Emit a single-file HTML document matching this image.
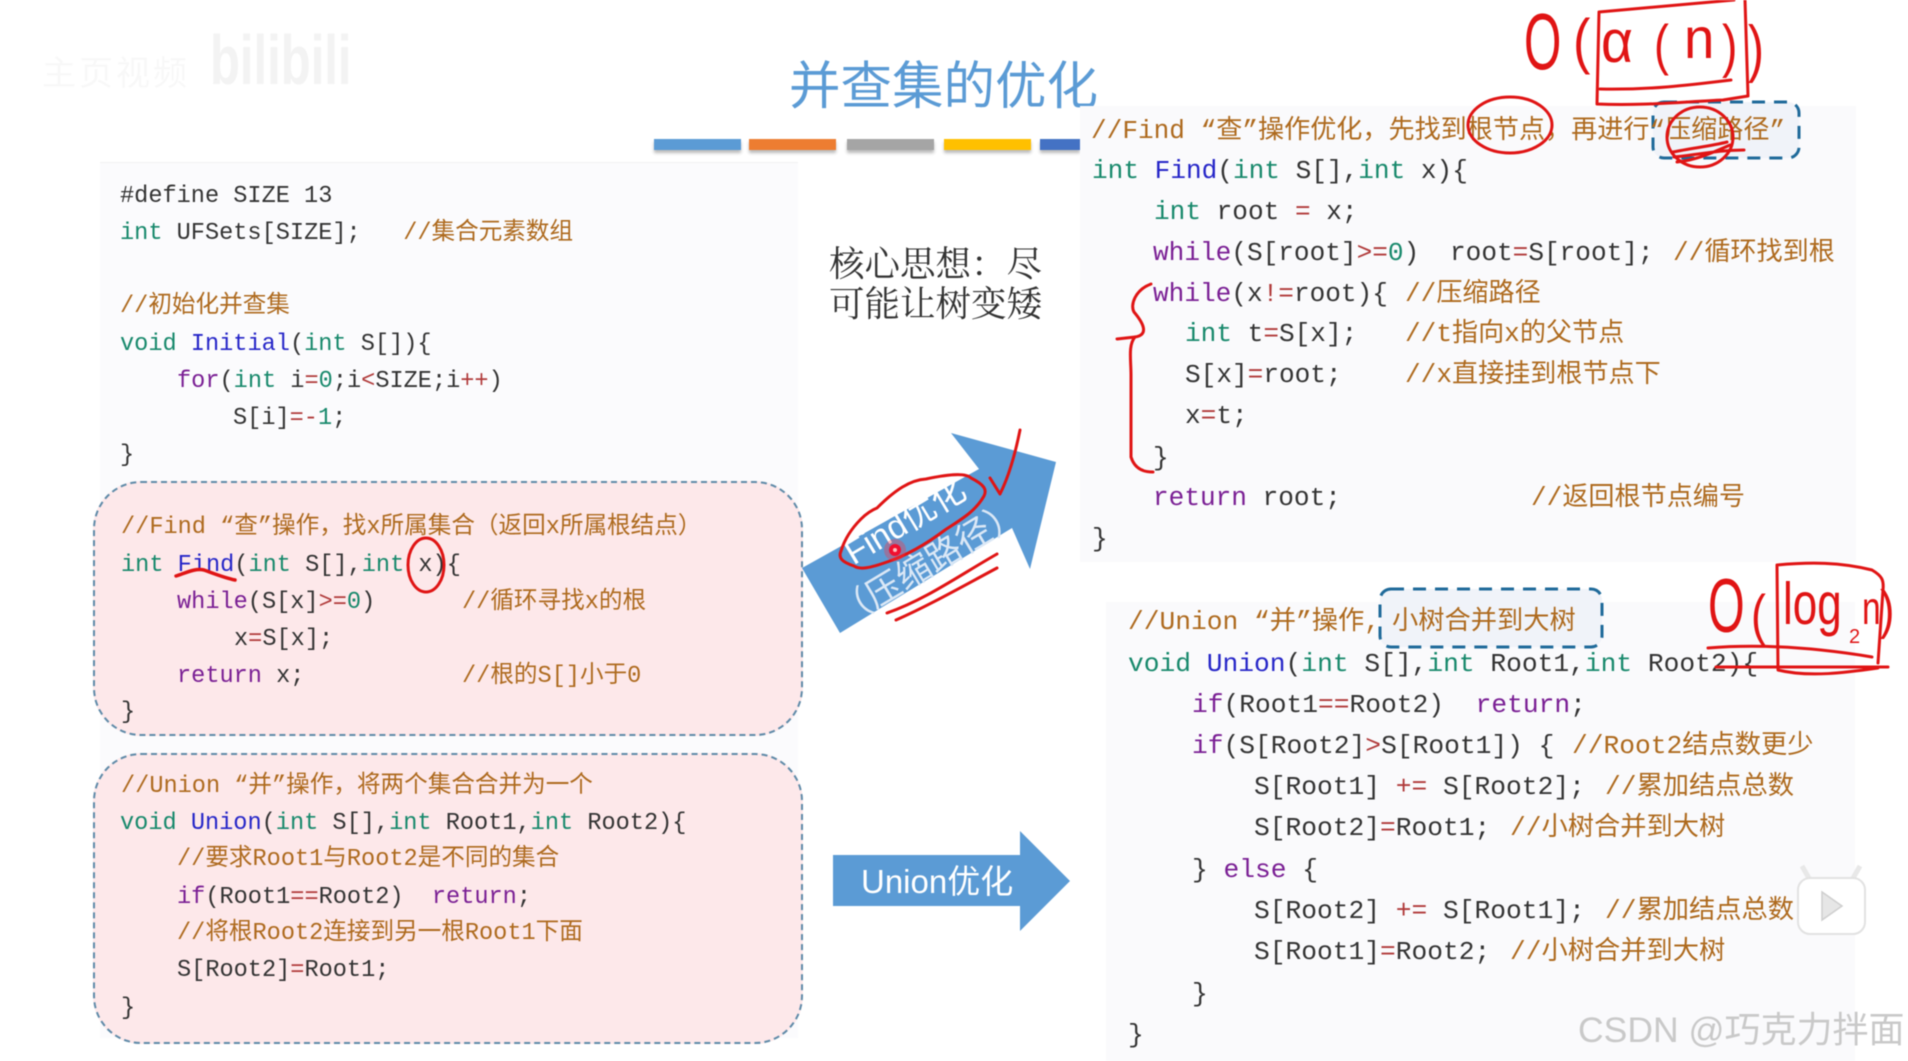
<!DOCTYPE html>
<html><head><meta charset="utf-8"><style>
html,body{margin:0;padding:0;background:#fff}
#s{position:relative;width:1908px;height:1061px;overflow:hidden;background:#fff;font-family:"Liberation Mono","Noto Sans CJK SC",monospace;color:#333;filter:blur(.4px)}
.a{position:absolute}
.l{position:absolute;white-space:pre;line-height:30px;height:30px}
.L,.R,.U{position:absolute;left:0}
.L{top:2px}.R{top:0}.U{top:1px}
.L .l{font-size:23.6px}.R .l{font-size:26.1px}.U .l{font-size:26.25px}
.c{color:#ae6a1e}.k{color:#18896c}.p{color:#7a1f94}.f{color:#2626c8}.o{color:#b03a3a}
svg{position:absolute;left:0;top:0}
</style></head><body><div id="s">
<div class="a" style="left:210px;top:20px;font:bold 70px 'Liberation Sans',sans-serif;color:#f3f3f3;transform:scaleX(.7);transform-origin:0 0">bilibili</div>
<div class="a" style="left:42px;top:46px;font:34px 'Noto Sans CJK SC',sans-serif;color:#f8f8f8;letter-spacing:3px">主页视频</div>
<div class="a" style="left:789px;top:47px;font:51.5px/70px 'Noto Sans CJK SC',sans-serif;color:#5b9bd5;white-space:pre">并查集的优化</div>
<div class="a" style="left:654px;top:139px;width:87px;height:11px;background:#5b9bd5;box-shadow:0 3px 3px #bbb"></div>
<div class="a" style="left:749px;top:139px;width:87px;height:11px;background:#ed7d31;box-shadow:0 3px 3px #bbb"></div>
<div class="a" style="left:847px;top:139px;width:87px;height:11px;background:#a5a5a5;box-shadow:0 3px 3px #bbb"></div>
<div class="a" style="left:944px;top:139px;width:87px;height:11px;background:#ffc000;box-shadow:0 3px 3px #bbb"></div>
<div class="a" style="left:1040px;top:139px;width:40px;height:11px;background:#4472c4;box-shadow:0 3px 3px #bbb"></div>

<div class="a" style="left:100px;top:162px;width:698px;height:875px;background:#fbfbfd;border-top:1px solid #f2f2f2"></div>
<div class="a" style="left:1080px;top:106px;width:776px;height:456px;background:#fafafc"></div>
<div class="a" style="left:1106px;top:602px;width:749px;height:459px;background:#fafafc"></div>
<div class="a" style="left:93px;top:481px;width:706px;height:251px;background:#fde8ea;border:2px dashed #5f8aa8;border-radius:48px"></div>
<div class="a" style="left:93px;top:753px;width:706px;height:287px;background:#fde8ea;border:2px dashed #5f8aa8;border-radius:48px"></div>
<svg width="1908" height="1061" viewBox="0 0 1908 1061">
<rect x="1653" y="102" width="146" height="56" rx="11" fill="#f0f3f9" stroke="#1f6a9a" stroke-width="3" stroke-dasharray="13 9"/>
<rect x="1380" y="589" width="222" height="58" rx="11" fill="#f0f3f9" stroke="#1f6a9a" stroke-width="3" stroke-dasharray="13 9"/>
</svg>

<div class="L">
<div class="l" style="left:120px;top:180px">#define SIZE 13</div>
<div class="l" style="left:120px;top:217px"><span class="k">int</span> UFSets[SIZE];   <span class="c">//集合元素数组</span></div>
<div class="l c" style="left:120px;top:290px">//初始化并查集</div>
<div class="l" style="left:120px;top:328px"><span class="k">void</span> <span class="f">Initial</span>(<span class="k">int</span> S[]){</div>
<div class="l" style="left:177px;top:365px"><span class="p">for</span>(<span class="k">int</span> i<span class="o">=</span><span class="k">0</span>;i<span class="o">&lt;</span>SIZE;i<span class="o">++</span>)</div>
<div class="l" style="left:233px;top:402px">S[i]<span class="o">=-</span><span class="k">1</span>;</div>
<div class="l" style="left:120px;top:439px">}</div>
<div class="l c" style="left:121px;top:511px">//Find “查”操作，找x所属集合（返回x所属根结点）</div>
<div class="l" style="left:121px;top:549px"><span class="k">int</span> <span class="f">Find</span>(<span class="k">int</span> S[],<span class="k">int</span> x){</div>
<div class="l" style="left:177px;top:586px"><span class="p">while</span>(S[x]<span class="o">&gt;=</span><span class="k">0</span>)</div>
<div class="l c" style="left:462px;top:586px">//循环寻找x的根</div>
<div class="l" style="left:234px;top:623px">x<span class="o">=</span>S[x];</div>
<div class="l" style="left:177px;top:660px"><span class="p">return</span> x;</div>
<div class="l c" style="left:462px;top:660px">//根的S[]小于0</div>
<div class="l" style="left:121px;top:696px">}</div>
<div class="l c" style="left:121px;top:770px">//Union “并”操作，将两个集合合并为一个</div>
<div class="l" style="left:120px;top:807px"><span class="k">void</span> <span class="f">Union</span>(<span class="k">int</span> S[],<span class="k">int</span> Root1,<span class="k">int</span> Root2){</div>
<div class="l c" style="left:177px;top:843px">//要求Root1与Root2是不同的集合</div>
<div class="l" style="left:177px;top:881px"><span class="p">if</span>(Root1<span class="o">==</span>Root2)  <span class="p">return</span>;</div>
<div class="l c" style="left:177px;top:917px">//将根Root2连接到另一根Root1下面</div>
<div class="l" style="left:177px;top:954px">S[Root2]<span class="o">=</span>Root1;</div>
<div class="l" style="left:121px;top:992px">}</div>
</div>

<div class="R">
<div class="l c" style="left:1091px;top:115.5px">//Find “查”操作优化，先找到根节点，再进行“压缩路径”</div>
<div class="l" style="left:1092px;top:156px"><span class="k">int</span> <span class="f">Find</span>(<span class="k">int</span> S[],<span class="k">int</span> x){</div>
<div class="l" style="left:1154px;top:197px"><span class="k">int</span> root <span class="o">=</span> x;</div>
<div class="l" style="left:1153px;top:238px"><span class="p">while</span>(S[root]<span class="o">&gt;=</span><span class="k">0</span>)</div>
<div class="l" style="left:1450px;top:238px">root<span class="o">=</span>S[root];</div>
<div class="l c" style="left:1673px;top:238px">//循环找到根</div>
<div class="l" style="left:1153px;top:279px"><span class="p">while</span>(x<span class="o">!=</span>root){</div>
<div class="l c" style="left:1405px;top:279px">//压缩路径</div>
<div class="l" style="left:1185px;top:319px"><span class="k">int</span> t<span class="o">=</span>S[x];</div>
<div class="l c" style="left:1405px;top:319px">//t指向x的父节点</div>
<div class="l" style="left:1185px;top:360px">S[x]<span class="o">=</span>root;</div>
<div class="l c" style="left:1405px;top:360px">//x直接挂到根节点下</div>
<div class="l" style="left:1185px;top:401px">x<span class="o">=</span>t;</div>
<div class="l" style="left:1153px;top:443px">}</div>
<div class="l" style="left:1153px;top:483px"><span class="p">return</span> root;</div>
<div class="l c" style="left:1531px;top:483px">//返回根节点编号</div>
<div class="l" style="left:1092px;top:524px">}</div>
</div>

<div class="U">
<div class="l c" style="left:1128px;top:606px">//Union “并”操作,</div>
<div class="l c" style="left:1392px;top:606px">小树合并到大树</div>
<div class="l" style="left:1128px;top:648px"><span class="k">void</span> <span class="f">Union</span>(<span class="k">int</span> S[],<span class="k">int</span> Root1,<span class="k">int</span> Root2){</div>
<div class="l" style="left:1192px;top:689px"><span class="p">if</span>(Root1<span class="o">==</span>Root2)  <span class="p">return</span>;</div>
<div class="l" style="left:1192px;top:730px"><span class="p">if</span>(S[Root2]<span class="o">&gt;</span>S[Root1]) {</div>
<div class="l c" style="left:1572px;top:730px">//Root2结点数更少</div>
<div class="l" style="left:1254px;top:771px">S[Root1] <span class="o">+=</span> S[Root2];</div>
<div class="l c" style="left:1605px;top:771px">//累加结点总数</div>
<div class="l" style="left:1254px;top:812px">S[Root2]<span class="o">=</span>Root1;</div>
<div class="l c" style="left:1510px;top:812px">//小树合并到大树</div>
<div class="l" style="left:1192px;top:854px">} <span class="p">else</span> {</div>
<div class="l" style="left:1254px;top:895px">S[Root2] <span class="o">+=</span> S[Root1];</div>
<div class="l c" style="left:1605px;top:895px">//累加结点总数</div>
<div class="l" style="left:1254px;top:936px">S[Root1]<span class="o">=</span>Root2;</div>
<div class="l c" style="left:1510px;top:936px">//小树合并到大树</div>
<div class="l" style="left:1192px;top:978px">}</div>
<div class="l" style="left:1128px;top:1019px">}</div>
</div>

<div class="a" style="left:829px;top:242px;font:35.5px/40px 'Noto Serif CJK SC',serif;color:#333;white-space:pre">核心思想：尽
可能让树变矮</div>

<svg width="1908" height="1061" viewBox="0 0 1908 1061">
<polygon points="802,568 979,469 951,433 1056,462 1030,569 1012,528 840,633" fill="#5b9bd5"/>
<polygon points="833,855 1020,855 1020,831 1070,881 1020,931 1020,906 833,906" fill="#5b9bd5"/>
<text x="861" y="893" fill="#fff" font-family="Liberation Sans,Noto Sans CJK SC,sans-serif" font-size="33">Union优化</text>
<text transform="translate(911,531) rotate(-31)" text-anchor="middle" fill="#fff" font-family="Liberation Sans,Noto Sans CJK SC,sans-serif" font-size="34">Find优化</text>
<text transform="translate(935,573) rotate(-31)" text-anchor="middle" fill="#dbe8f6" font-family="Noto Sans CJK SC,sans-serif" font-size="35">（压缩路径）</text>
<g fill="none" stroke="#e01414" stroke-width="3" stroke-linecap="round" stroke-linejoin="round">
<path d="M877,508C895,490 910,480 926,479C945,475 965,472 971,478C985,485 987,490 984,496C975,512 960,520 945,530C925,545 905,556 887,562C870,568 860,570 854,566C842,562 838,558 841,551C845,538 852,528 861,519C866,514 872,510 877,508"/>
<path d="M990,478L1000,494Q1012,470 1020,430"/>
<path d="M887,613C925,600 960,575 997,554"/>
<path d="M896,620C930,605 965,585 997,568"/>
<path d="M176,576C188,572 196,568 204,570C215,574 225,578 235,580" stroke-width="3.5"/>
<ellipse cx="426" cy="565" rx="18" ry="27"/>
<ellipse cx="1510" cy="125" rx="42" ry="28"/>
<ellipse cx="1700" cy="137" rx="33" ry="30"/>
<path d="M1673,152C1692,148 1712,146 1727,142M1674,157C1697,155 1717,150 1744,150M1677,162C1697,160 1714,152 1730,145"/>
<path d="M1599,12L1734,0M1745,0L1748,96M1599,12L1597,104C1640,106 1680,102 1723,100L1748,96M1600,89C1650,90 1690,85 1731,80"/>
<path d="M1151,284C1135,290 1130,305 1134,312C1145,325 1148,335 1135,337L1117,339M1135,337C1128,345 1131,360 1131,375L1131,457C1135,470 1145,472 1153,472"/>
<path d="M1777,565C1810,562 1840,562 1872,570C1882,576 1884,580 1883,590L1878,663M1777,565L1778,670C1810,678 1850,672 1878,668M1708,648C1770,643 1830,650 1872,657M1716,667L1888,667"/>
</g>
<g fill="#e01414" font-family="DejaVu Sans ExtraLight,Liberation Sans,sans-serif">
<text transform="translate(1524,69) scale(.6,1)" font-size="80">O</text>
<text transform="translate(1573,62) scale(.9,1.05)" font-size="58">(</text>
<text transform="translate(1601,62) scale(1.15,1.25)" font-size="48">α</text>
<text transform="translate(1654,64) scale(.8,1)" font-size="56">(</text>
<text transform="translate(1684,58) scale(1.05,1.1)" font-size="52">n</text>
<text transform="translate(1722,66) scale(.8,1)" font-size="58">)</text>
<text transform="translate(1748,70) scale(.8,1.05)" font-size="60">)</text>
<text transform="translate(1708,632) scale(.62,1)" font-size="76">O</text>
<text transform="translate(1751,634) scale(.8,1)" font-size="56">(</text>
<text transform="translate(1783,624) scale(1,1.35)" font-size="44">log</text>
<text x="1849" y="643" font-size="20">2</text>
<text transform="translate(1862,624) scale(.8,1.1)" font-size="42">n</text>
<text transform="translate(1880,628) scale(.8,1)" font-size="54">)</text>
</g>
<circle cx="895" cy="550" r="11" fill="#ff3040" opacity=".35"/>
<circle cx="895" cy="550" r="6" fill="#f01030"/>
<circle cx="895" cy="550" r="2" fill="#ffc0c0"/>
<path d="M1810,880L1802,866M1852,880L1860,866" stroke="#e8e8e8" stroke-width="5"/>
<rect x="1798" y="878" width="67" height="56" rx="12" fill="#fff" stroke="#e2e2e2" stroke-width="2"/>
<path d="M1822,892L1822,920L1842,906Z" fill="#e6e6e6" stroke="#cfcfcf" stroke-width="1.5"/>
<text x="1578" y="1042" fill="#c9c9c9" font-family="Liberation Sans,sans-serif" font-size="35.5">CSDN @<tspan font-family="Noto Sans CJK SC,sans-serif" font-size="36">巧克力拌面</tspan></text>
</svg>
</div></body></html>
